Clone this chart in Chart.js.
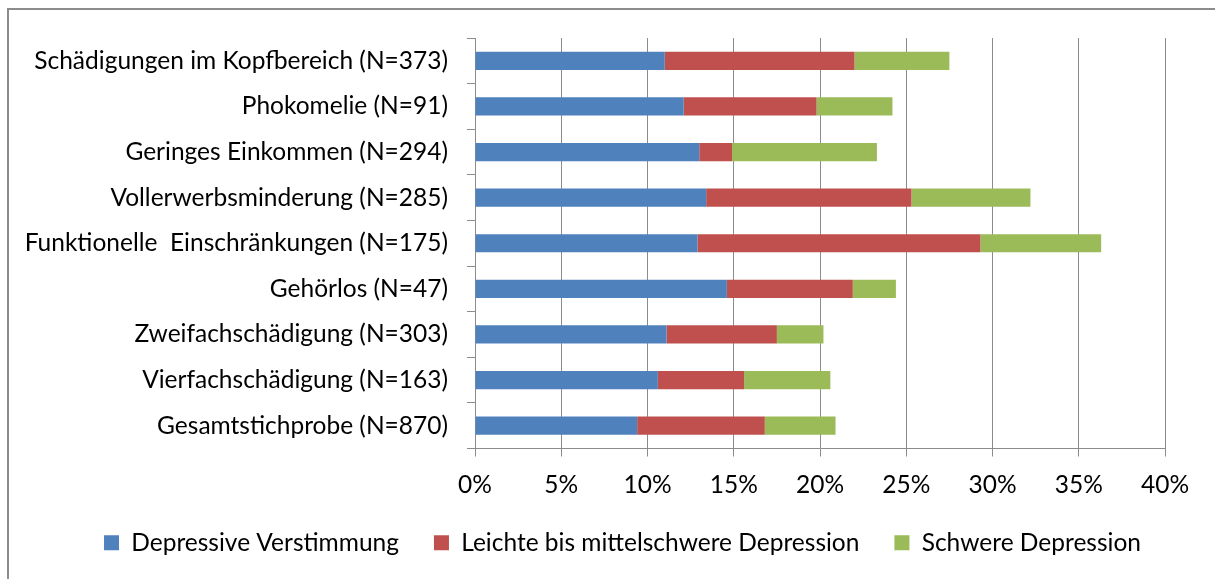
<!DOCTYPE html>
<html>
<head>
<meta charset="utf-8">
<script src="https://cdn.jsdelivr.net/npm/chart.js@4"></script>
<style>
  html, body { margin: 0; background: #fff; }
  #wrap { width: 1215px; height: 579px; }
</style>
</head>
<body>
<div id="wrap"><canvas id="chartDepression"></canvas></div>
<script>
const categories = [
  'Schädigungen im Kopfbereich (N=373)',
  'Phokomelie (N=91)',
  'Geringes Einkommen (N=294)',
  'Vollerwerbsminderung (N=285)',
  'Funktionelle  Einschränkungen (N=175)',
  'Gehörlos (N=47)',
  'Zweifachschädigung (N=303)',
  'Vierfachschädigung (N=163)',
  'Gesamtstichprobe (N=870)'
];
const depressiveVerstimmung = [11.0, 12.1, 13.0, 13.4, 12.9, 14.6, 11.1, 10.6, 9.4];
const leichteBisMittelschwere = [11.0, 7.7, 1.9, 11.9, 16.4, 7.3, 6.4, 5.0, 7.4];
const schwereDepression = [5.5, 4.4, 8.4, 6.9, 7.0, 2.5, 2.7, 5.0, 4.1];
const xTicks = [0, 5, 10, 15, 20, 25, 30, 35, 40];

const fontFamily = 'Lato, "Open Sans", sans-serif';
const fontSize = 24.5;
const gridColor = '#8c8c8c';

// rahmen oben und links, rest ist abgeschnitten
const frame = {
  id: 'frame',
  beforeDraw(chart) {
    const ctx = chart.ctx;
    ctx.save();
    ctx.strokeStyle = gridColor;
    ctx.lineWidth = 2;
    ctx.strokeRect(8, 9, 1400, 800);
    ctx.restore();
  }
};

// legende etwas nach rechts schieben
const legendShift = {
  id: 'legendShift',
  afterLayout(chart) {
    chart.legend.left += 40;
    chart.legend.right += 40;
  }
};

new Chart(document.getElementById('chartDepression'), {
  type: 'bar',
  data: {
    labels: categories,
    datasets: [
      {
        label: 'Depressive Verstimmung',
        data: depressiveVerstimmung,
        backgroundColor: '#4f81bd'
      },
      {
        label: 'Leichte bis mittelschwere Depression',
        data: leichteBisMittelschwere,
        backgroundColor: '#c0504d'
      },
      {
        label: 'Schwere Depression',
        data: schwereDepression,
        backgroundColor: '#9bbb59'
      }
    ]
  },
  options: {
    indexAxis: 'y',
    responsive: true,
    maintainAspectRatio: false,
    animation: false,
    barPercentage: 0.4,
    categoryPercentage: 1,
    layout: { padding: { top: 38, right: 50, bottom: 14, left: 0 } },
    scales: {
      x: {
        stacked: true,
        min: 0,
        max: 40,
        afterBuildTicks: s => { s.ticks = xTicks.map(v => ({ value: v })); },
        afterFit: s => { s.height = 47; },
        grid: { color: gridColor, tickLength: 8 },
        border: { color: gridColor },
        ticks: {
          color: '#000',
          padding: 14,
          font: { family: fontFamily, size: fontSize },
          callback: v => v + '%'
        }
      },
      y: {
        stacked: true,
        afterFit: s => { s.width = 475; },
        grid: { drawOnChartArea: false, color: gridColor, tickLength: 8 },
        border: { color: gridColor },
        ticks: {
          color: '#000',
          padding: 19,
          font: { family: fontFamily, size: fontSize }
        }
      }
    },
    plugins: {
      tooltip: { enabled: false },
      legend: {
        position: 'bottom',
        labels: {
          color: '#000',
          boxWidth: 15,
          boxHeight: 15,
          padding: 35,
          font: { family: fontFamily, size: fontSize }
        }
      }
    }
  },
  plugins: [frame, legendShift]
});
</script>
</body>
</html>
